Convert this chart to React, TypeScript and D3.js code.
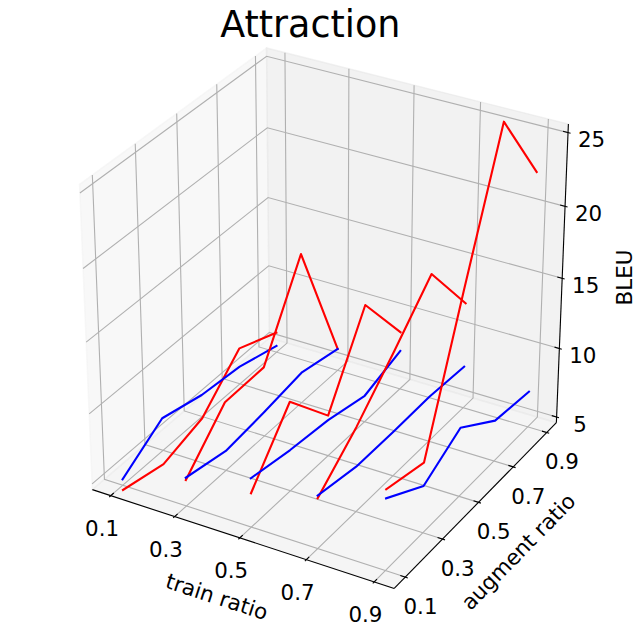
import * as d3 from 'd3';
import * as React from 'react';

// train ratio on x, augment ratio on y, BLEU on z
const trainRatios = [0.1, 0.3, 0.5, 0.7, 0.9];
const augmentRatios = [0.1, 0.3, 0.5, 0.7, 0.9];

// BLEU, one row per train ratio, one column per augment ratio
const redBleu = [
    [4.24, 3.57, 4.45, 7.22, 6.05],
    [6.44, 9.48, 9.57, 15.36, 6.18],
    [6.99, 10.93, 7.49, 13.04, 8.77],
    [8.13, 10.57, 13.46, 16.52, 12.2],
    [10.25, 9.54, 18.91, 27.98, 22.6],
];
const blueBleu = [
    [5.01, 6.92, 6.17, 5.86, 5.05],
    [6.61, 5.99, 6.33, 6.79, 6.18],
    [8.05, 7.51, 7.17, 6.49, 7.39],
    [8.32, 7.79, 7.76, 7.82, 7.6],
    [9.63, 7.9, 9.48, 7.51, 7.16],
];

const xTicks = [0.1, 0.3, 0.5, 0.7, 0.9];
const yTicks = [0.1, 0.3, 0.5, 0.7, 0.9];
const zTicks = [5, 10, 15, 20, 25];

const width = 640;
const height = 636;
const font = 'DejaVu Sans, sans-serif';
const labelSize = 21.4;

// view like matplotlib's default 3d camera
const elev = (30 * Math.PI) / 180;
const azim = (-60 * Math.PI) / 180;
const dist = 10;
const P = 0.5 + 1 / 48; // pane half size (limits plus axis padding)
const inward = 0.2 / 12;
const outward = 0.1 / 12;

// data -> centred unit box
const xScale = d3.scaleLinear().domain([0.06, 0.94]).range([-0.5, 0.5]);
const yScale = d3.scaleLinear().domain([0.06, 0.94]).range([-0.5, 0.5]);
const zScale = d3.scaleLinear().domain([5, 25.15]).range([-0.5, 0.5]);
// projection plane -> pixels
const pxScale = d3.scaleLinear().domain([0, 0.1]).range([328.1, 328.1 + 334.5]);
const pyScale = d3.scaleLinear().domain([0, 0.1]).range([308.6, 308.6 - 334.5]);

type V3 = [number, number, number];

const dot = (a: number[], b: number[]) => a[0] * b[0] + a[1] * b[1] + a[2] * b[2];
const wv: V3 = [Math.cos(elev) * Math.cos(azim), Math.cos(elev) * Math.sin(azim), Math.sin(elev)];
const un = Math.hypot(wv[0], wv[1]);
const uv: V3 = [-wv[1] / un, wv[0] / un, 0];
const vv: V3 = [
    wv[1] * uv[2] - wv[2] * uv[1],
    wv[2] * uv[0] - wv[0] * uv[2],
    wv[0] * uv[1] - wv[1] * uv[0],
];

/**
 * Box point -> [px, py, depth toward camera]
 */
function project(q: V3): V3 {
    const den = dist - dot(wv, q);
    return [pxScale(dot(uv, q) / den), pyScale(dot(vv, q) / den), dot(wv, q)];
}

const path = (pts: V3[]) =>
    d3.line<V3>().x(d => d[0]).y(d => d[1])(pts.map(project)) || '';

const panes = [
    { fill: 'rgba(242,242,242,0.5)', pts: [[-P, -P, -P], [-P, P, -P], [-P, P, P], [-P, -P, P]] as V3[] },
    { fill: 'rgba(230,230,230,0.5)', pts: [[-P, P, -P], [P, P, -P], [P, P, P], [-P, P, P]] as V3[] },
    { fill: 'rgba(236,236,236,0.5)', pts: [[-P, -P, -P], [P, -P, -P], [P, P, -P], [-P, P, -P]] as V3[] },
];

const gridLines: V3[][] = [
    ...xTicks.map(t => { const q = xScale(t); return [[q, -P, -P], [q, P, -P], [q, P, P]] as V3[]; }),
    ...yTicks.map(t => { const q = yScale(t); return [[-P, q, P], [-P, q, -P], [P, q, -P]] as V3[]; }),
    ...zTicks.map(t => { const q = zScale(t); return [[P, P, q], [-P, P, q], [-P, -P, q]] as V3[]; }),
];

const axisLines: V3[][] = [
    [[-P, -P, -P], [P, -P, -P]],
    [[P, -P, -P], [P, P, -P]],
    [[P, P, -P], [P, P, P]],
];

const tickMarks: V3[][] = [
    ...xTicks.map(t => [[xScale(t), -P + inward, -P], [xScale(t), -P - outward, -P]] as V3[]),
    ...yTicks.map(t => [[P - inward, yScale(t), -P], [P + outward, yScale(t), -P]] as V3[]),
    ...zTicks.map(t => [[P - inward, P, zScale(t)], [P + outward, P, zScale(t)]] as V3[]),
];

const series = [
    ...redBleu.map((row, i) => ({ color: '#ff0000', i, row })),
    ...blueBleu.map((row, i) => ({ color: '#0000ff', i, row })),
].map(s => {
    const pts = s.row.map((z, j) => [xScale(trainRatios[s.i]), yScale(augmentRatios[j]), zScale(z)] as V3);
    return { color: s.color, pts, depth: d3.max(pts, p => dot(wv, p)) as number };
}).sort((a, b) => a.depth - b.depth);

function angleOf(a: V3, b: V3) {
    const pa = project(a);
    const pb = project(b);
    return (Math.atan2(pb[1] - pa[1], pb[0] - pa[0]) * 180) / Math.PI;
}

export default function App() {
    const xLab = project([0, -P, -P]);
    const yLab = project([P, 0, -P]);
    const zLab = project([P, P, 0]);
    const xAng = angleOf([-P, -P, -P], [P, -P, -P]);
    const yAng = angleOf([P, -P, -P], [P, P, -P]);
    return (
        <svg
            width={width}
            height={height}
            style={{ position: 'absolute', left: 0, top: 0, background: '#fff' }}
            fontFamily={font}
        >
            <rect width={width} height={height} fill="#fff" />
            {panes.map((p, k) => (
                <path key={k} d={path(p.pts) + 'Z'} fill={p.fill} stroke={p.fill} strokeWidth={1.4} />
            ))}
            {gridLines.map((g, k) => (
                <path key={k} d={path(g)} fill="none" stroke="#b0b0b0" strokeWidth={1.1} />
            ))}
            {axisLines.map((g, k) => (
                <path key={k} d={path(g)} fill="none" stroke="#000" strokeWidth={1.1} />
            ))}
            {tickMarks.map((g, k) => (
                <path key={k} d={path(g)} fill="none" stroke="#000" strokeWidth={1.1} />
            ))}
            <g fontSize={labelSize} textAnchor="middle" dominantBaseline="central" fill="#000">
                {xTicks.map(t => {
                    const p = project([xScale(t), -P, -P]);
                    return <text key={t} x={p[0] - 8.7} y={p[1] + 33}>{t.toFixed(1)}</text>;
                })}
                {yTicks.map(t => {
                    const p = project([P, yScale(t), -P]);
                    return <text key={t} x={p[0] + 15.2} y={p[1] + 29.4}>{t.toFixed(1)}</text>;
                })}
                {zTicks.map(t => {
                    const p = project([P, P, zScale(t)]);
                    return <text key={t} x={p[0] + 23.5} y={p[1] + 7}>{t}</text>;
                })}
                <text transform={`translate(${xLab[0] - 23},${xLab[1] + 58.8}) rotate(${xAng})`}>train ratio</text>
                <text transform={`translate(${yLab[0] + 39.9},${yLab[1] + 49.3}) rotate(${yAng})`}>augment ratio</text>
                <text transform={`translate(${zLab[0] + 62},${zLab[1] + 0.3}) rotate(-90)`}>BLEU</text>
            </g>
            {series.map((s, k) => (
                <path
                    key={k}
                    d={path(s.pts)}
                    fill="none"
                    stroke={s.color}
                    strokeWidth={2.1}
                    strokeLinejoin="round"
                    strokeLinecap="square"
                />
            ))}
            <text x={310.3} y={36.7} fontSize={36.5} textAnchor="middle" fill="#000">Attraction</text>
        </svg>
    );
}
